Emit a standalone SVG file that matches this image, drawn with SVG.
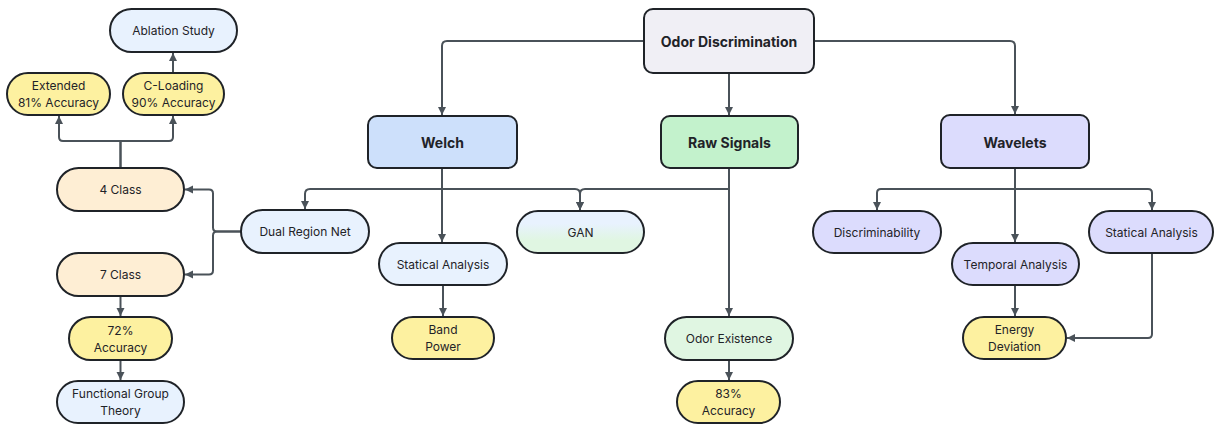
<svg xmlns="http://www.w3.org/2000/svg" width="1214" height="424" viewBox="0 0 1214 424">
  <style>
    .box { stroke: #1f2328; stroke-width: 2; }
    .root { fill: #f0eff5; }
    .welch { fill: #cde0fb; }
    .raw { fill: #c3f2cc; }
    .wave { fill: #dcdcfd; }
    .blue { fill: #e8f2fe; }
    .yellow { fill: #fdf1a0; }
    .peach { fill: #feeed4; }
    .lav { fill: #dcdcfd; }
    .mint { fill: #e0f6e2; }
    .gan { fill: url(#ganFill); }
    text { font-family: Inter, "Noto Sans", "Liberation Sans", sans-serif; fill: #1f2328; text-anchor: middle; dominant-baseline: central; }
    .t { font-size: 12px; }
    .h { font-size: 14px; font-weight: 700; }
    .edge { fill: none; stroke: #4a5259; stroke-width: 2; marker-end: url(#arrow); }
  </style>
  <defs>
    <marker id="arrow" markerUnits="userSpaceOnUse" markerWidth="10" markerHeight="10" viewBox="0 0 10 10" refX="9" refY="5" orient="auto">
      <path d="M1,1 L9,5 L1,9 Z" fill="#4a5259"/>
    </marker>
    <linearGradient id="ganFill" x1="0" y1="0" x2="0" y2="1">
      <stop offset="0" stop-color="#e8f2fe"/>
      <stop offset="0.3" stop-color="#e8f2fe"/>
      <stop offset="0.7" stop-color="#e0f6e2"/>
      <stop offset="1" stop-color="#e0f6e2"/>
    </linearGradient>
  </defs>

  <g id="connectors">
    <path class="edge" d="M644,41 H447 Q442,41 442,46 V115"/>
    <path class="edge" d="M729,73 V115"/>
    <path class="edge" d="M814,41 H1010 Q1015,41 1015,46 V114"/>
    <path class="edge" d="M442,168 V189 H310 Q305,189 305,194 V209"/>
    <path class="edge" d="M442,168 V242"/>
    <path class="edge" d="M442,168 V189 H575 Q580,189 580,194 V210"/>
    <path class="edge" d="M729,168 V189 H585 Q580,189 580,194 V210"/>
    <path class="edge" d="M729,168 V316"/>
    <path class="edge" d="M729,360 V380"/>
    <path class="edge" d="M443,285 V316"/>
    <path class="edge" d="M241,231.5 H217 Q213,231.5 213,227.5 V193.5 Q213,189.5 209,189.5 H185"/>
    <path class="edge" d="M241,231.5 H217 Q213,231.5 213,235.5 V270.5 Q213,274.5 209,274.5 H185"/>
    <path class="edge" d="M120.5,296 V316"/>
    <path class="edge" d="M120.5,360 V380"/>
    <path class="edge" d="M120.5,168 V141 H63 Q59,141 59,137 V116"/>
    <path class="edge" d="M120.5,168 V141 H169 Q173,141 173,137 V116"/>
    <path class="edge" d="M173,73 V53"/>
    <path class="edge" d="M1015,168 V189 H881 Q877,189 877,193 V210"/>
    <path class="edge" d="M1015,168 V242"/>
    <path class="edge" d="M1015,168 V189 H1148 Q1152,189 1152,193 V210"/>
    <path class="edge" d="M1015,285 V316"/>
    <path class="edge" d="M1152,253 V334 Q1152,338 1148,338 H1067"/>
  </g>

  <g id="odor-discrimination">
    <rect class="box root" x="644" y="9" width="170" height="64" rx="9"/>
    <text class="h" x="729" y="41">Odor Discrimination</text>
  </g>
  <g id="welch">
    <rect class="box welch" x="368" y="116" width="149" height="52" rx="9"/>
    <text class="h" x="442.5" y="142">Welch</text>
  </g>
  <g id="raw-signals">
    <rect class="box raw" x="661" y="116" width="137" height="52" rx="9"/>
    <text class="h" x="729.5" y="142">Raw Signals</text>
  </g>
  <g id="wavelets">
    <rect class="box wave" x="941" y="115" width="148" height="53" rx="9"/>
    <text class="h" x="1015" y="142">Wavelets</text>
  </g>

  <g id="ablation-study">
    <rect class="box blue" x="110" y="9" width="127" height="43" rx="21.5"/>
    <text class="t" x="173.5" y="30.5">Ablation Study</text>
  </g>
  <g id="extended">
    <rect class="box yellow" x="7" y="73" width="103" height="42" rx="21"/>
    <text class="t" x="58.5" y="85.5">Extended</text>
    <text class="t" x="58.5" y="102.5">81% Accuracy</text>
  </g>
  <g id="c-loading">
    <rect class="box yellow" x="123" y="73" width="101" height="42" rx="21"/>
    <text class="t" x="173.5" y="85.5">C-Loading</text>
    <text class="t" x="173.5" y="102.5">90% Accuracy</text>
  </g>
  <g id="class-4">
    <rect class="box peach" x="57" y="168" width="127" height="43" rx="21.5"/>
    <text class="t" x="120.5" y="189.5">4 Class</text>
  </g>
  <g id="class-7">
    <rect class="box peach" x="57" y="253" width="127" height="43" rx="21.5"/>
    <text class="t" x="120.5" y="274.5">7 Class</text>
  </g>
  <g id="accuracy-72">
    <rect class="box yellow" x="69" y="317" width="103" height="43" rx="21.5"/>
    <text class="t" x="120.5" y="330">72%</text>
    <text class="t" x="120.5" y="347">Accuracy</text>
  </g>
  <g id="functional-group-theory">
    <rect class="box blue" x="57" y="381" width="127" height="42" rx="21"/>
    <text class="t" x="120.5" y="393.5">Functional Group</text>
    <text class="t" x="120.5" y="410.5">Theory</text>
  </g>
  <g id="dual-region-net">
    <rect class="box blue" x="241" y="210" width="128" height="43" rx="21.5"/>
    <text class="t" x="305" y="231.5">Dual Region Net</text>
  </g>
  <g id="welch-statical-analysis">
    <rect class="box blue" x="379" y="243" width="128" height="42" rx="21"/>
    <text class="t" x="443" y="264">Statical Analysis</text>
  </g>
  <g id="band-power">
    <rect class="box yellow" x="392" y="317" width="102" height="42" rx="21"/>
    <text class="t" x="443" y="329.5">Band</text>
    <text class="t" x="443" y="346.5">Power</text>
  </g>
  <g id="gan">
    <rect class="box gan" x="517" y="211" width="127" height="42" rx="21"/>
    <text class="t" x="580.5" y="232">GAN</text>
  </g>
  <g id="odor-existence">
    <rect class="box mint" x="665" y="317" width="128" height="43" rx="21.5"/>
    <text class="t" x="729" y="338.5">Odor Existence</text>
  </g>
  <g id="accuracy-83">
    <rect class="box yellow" x="677" y="381" width="103" height="42" rx="21"/>
    <text class="t" x="728.5" y="393.5">83%</text>
    <text class="t" x="728.5" y="410.5">Accuracy</text>
  </g>
  <g id="discriminability">
    <rect class="box lav" x="813" y="211" width="128" height="42" rx="21"/>
    <text class="t" x="877" y="232">Discriminability</text>
  </g>
  <g id="temporal-analysis">
    <rect class="box lav" x="952" y="243" width="127" height="42" rx="21"/>
    <text class="t" x="1015.5" y="264">Temporal Analysis</text>
  </g>
  <g id="wavelets-statical-analysis">
    <rect class="box lav" x="1089" y="211" width="124" height="42" rx="21"/>
    <text class="t" x="1151.5" y="232">Statical Analysis</text>
  </g>
  <g id="energy-deviation">
    <rect class="box yellow" x="963" y="317" width="103" height="42" rx="21"/>
    <text class="t" x="1014.5" y="329.5">Energy</text>
    <text class="t" x="1014.5" y="346.5">Deviation</text>
  </g>
</svg>
